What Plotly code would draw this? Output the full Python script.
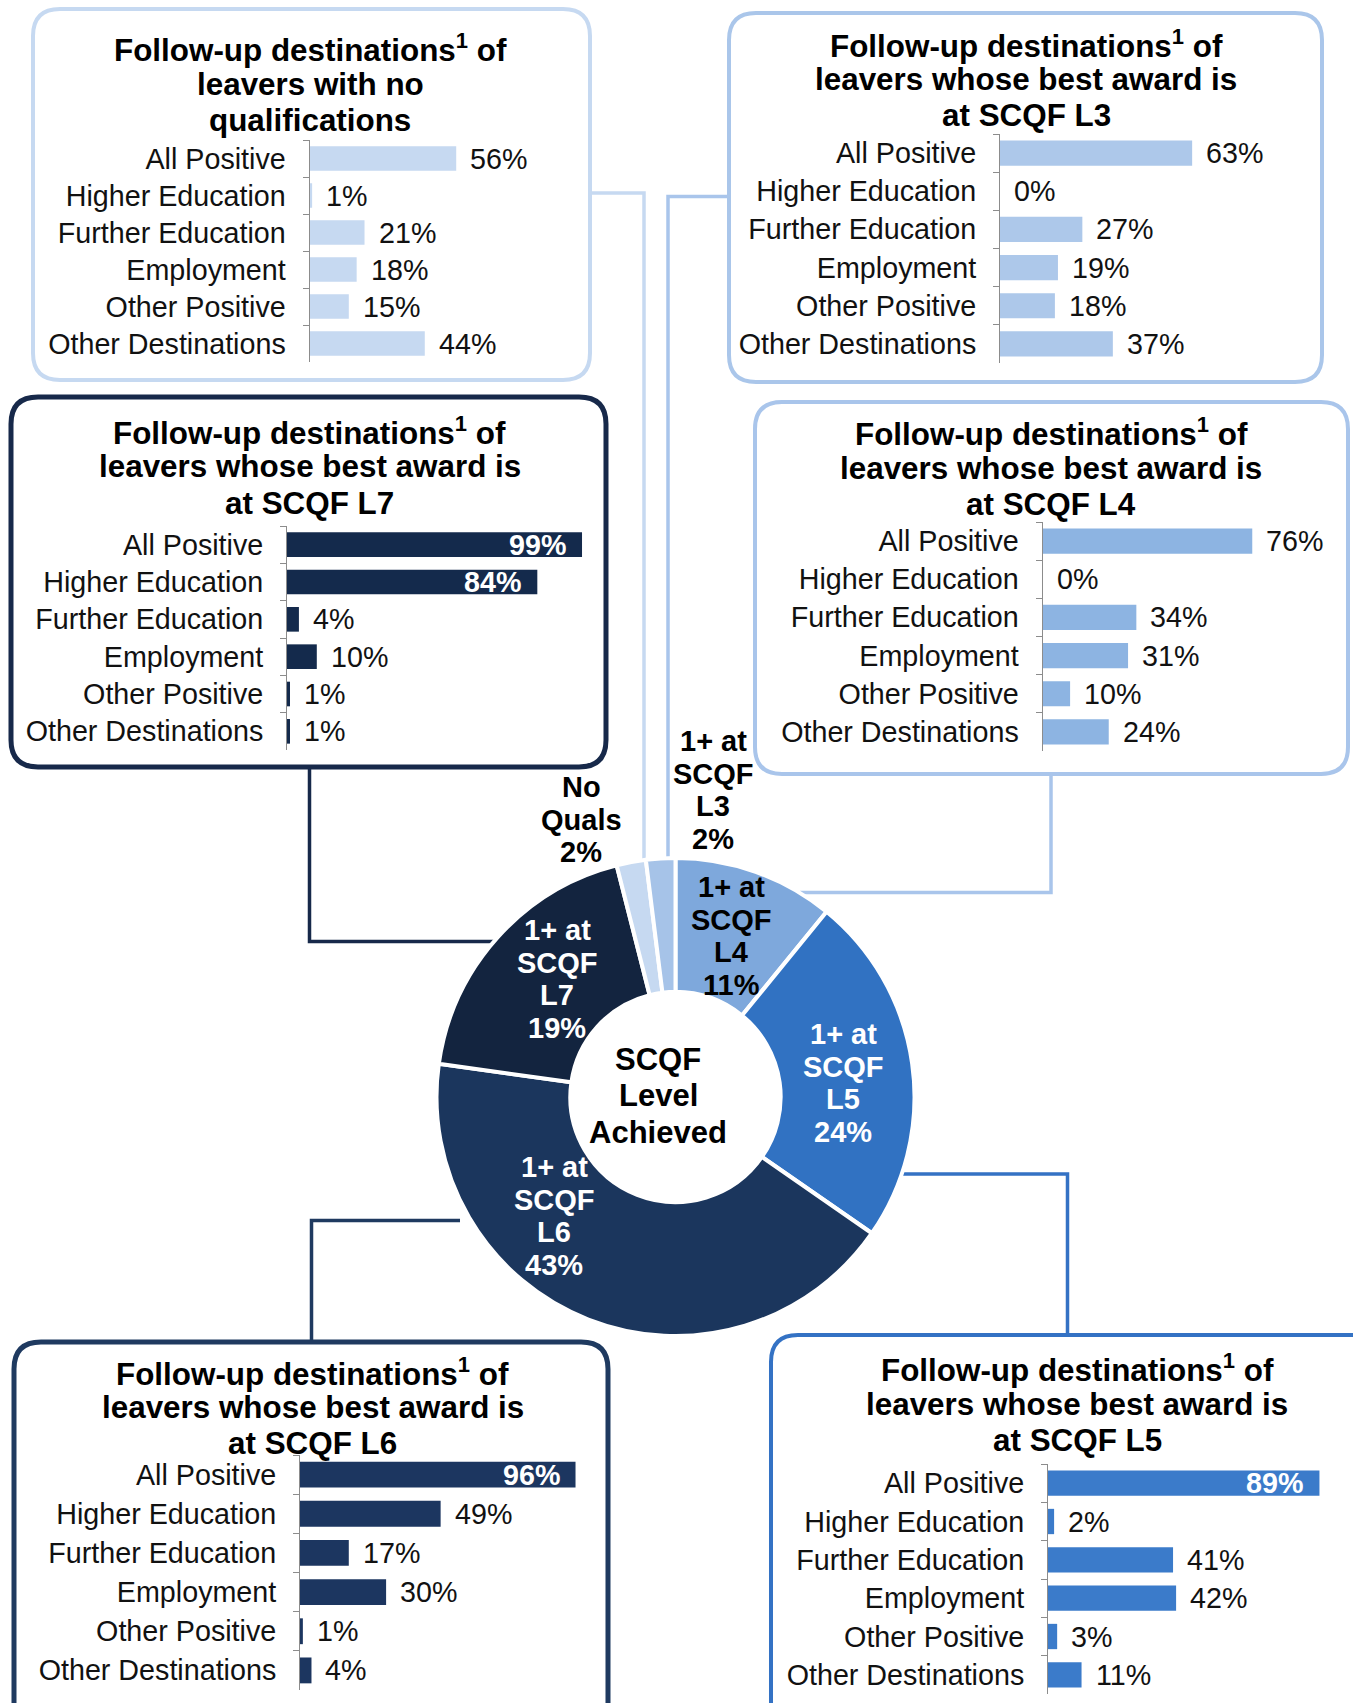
import plotly.graph_objects as go

W, H = 1353, 1703
FONT = "Arial, 'Liberation Sans', sans-serif"

# ---- data ----
categories = ["All Positive", "Higher Education", "Further Education",
              "Employment", "Other Positive", "Other Destinations"]

no_quals = [56, 1, 21, 18, 15, 44]
scqf_l3 = [63, 0, 27, 19, 18, 37]
scqf_l4 = [76, 0, 34, 31, 10, 24]
scqf_l5 = [89, 2, 41, 42, 3, 11]
scqf_l6 = [96, 49, 17, 30, 1, 4]
scqf_l7 = [99, 84, 4, 10, 1, 1]

# donut, clockwise from 12 o'clock
level_names = ["1+ at SCQF L4", "1+ at SCQF L5", "1+ at SCQF L6",
               "1+ at SCQF L7", "No Quals", "1+ at SCQF L3"]
level_shares = [11, 24, 43, 19, 2, 2]

centre_text = ["SCQF", "Level", "Achieved"]
title_first = "Follow-up destinations<sup>1</sup> of"


def P(x, y):
    return f"{x / W:.5f},{1 - y / H:.5f}"


def rounded_box(x0, y0, x1, y1, r=27):
    return (f"M{P(x0 + r, y0)} L{P(x1 - r, y0)} Q{P(x1, y0)} {P(x1, y0 + r)} "
            f"L{P(x1, y1 - r)} Q{P(x1, y1)} {P(x1 - r, y1)} "
            f"L{P(x0 + r, y1)} Q{P(x0, y1)} {P(x0, y1 - r)} "
            f"L{P(x0, y0 + r)} Q{P(x0, y0)} {P(x0 + r, y0)} Z")


def polyline(pts):
    return "M" + " L".join(P(x, y) for x, y in pts)


# ---- panel styling / placement (pixels) ----
panels = [
    dict(values=no_quals, lines=[title_first, "leavers with no", "qualifications"],
         bar="#c6d9f1", edge="#c6d9f1", box=(33, 9, 590, 380), edge_w=4,
         title_x=310, title_y=48, axis_x=309.5, rows=(140, 362), ppp=2.62),
    dict(values=scqf_l3, lines=[title_first, "leavers whose best award is", "at SCQF L3"],
         bar="#adc8ea", edge="#aac6ea", box=(729, 13, 1322, 382), edge_w=4,
         title_x=1026, title_y=43.5, axis_x=1000, rows=(134, 363), ppp=3.05),
    dict(values=scqf_l7, lines=[title_first, "leavers whose best award is", "at SCQF L7"],
         bar="#142a4c", edge="#17294a", box=(11, 397, 606, 767), edge_w=5,
         title_x=309.5, title_y=431, axis_x=287, rows=(526, 750), ppp=2.98),
    dict(values=scqf_l4, lines=[title_first, "leavers whose best award is", "at SCQF L4"],
         bar="#8db4e2", edge="#a9c5eb", box=(755, 402, 1348, 774), edge_w=4,
         title_x=1051, title_y=432, axis_x=1042.5, rows=(522, 751), ppp=2.76),
    dict(values=scqf_l6, lines=[title_first, "leavers whose best award is", "at SCQF L6"],
         bar="#1c3660", edge="#1f3a60", box=(14, 1342, 608, 1730), edge_w=5,
         title_x=312.5, title_y=1371.5, axis_x=300, rows=(1455, 1690), ppp=2.87),
    dict(values=scqf_l5, lines=[title_first, "leavers whose best award is", "at SCQF L5"],
         bar="#3b7bca", edge="#3472c4", box=(771, 1335, 1380, 1730), edge_w=4,
         title_x=1077, title_y=1368, axis_x=1048, rows=(1464, 1694), ppp=3.05),
]

connectors = [
    ([(589, 193), (644, 193), (644, 870)], "#c6d9f1"),
    ([(729, 196.5), (668, 196.5), (668, 866)], "#a9c5eb"),
    ([(309.5, 767), (309.5, 941.5), (500, 941.5)], "#17294a"),
    ([(1051, 774), (1051, 892.5), (800, 892.5)], "#a9c5eb"),
    ([(895, 1174), (1067.5, 1174), (1067.5, 1335)], "#3472c4"),
    ([(311.5, 1342), (311.5, 1220.5), (460, 1220.5)], "#1f3a60"),
]

donut_colors = ["#7ea8dc", "#3172c2", "#1b365d", "#13243f", "#c6d9f1", "#a6c3e8"]
donut_label_pos = {  # centre x, first line y, colour
    "1+ at SCQF L3": (713, 741, "#000"),
    "No Quals": (581, 787, "#000"),
    "1+ at SCQF L7": (557, 930, "#fff"),
    "1+ at SCQF L6": (554, 1167, "#fff"),
    "1+ at SCQF L5": (843, 1034, "#fff"),
    "1+ at SCQF L4": (731, 887, "#000"),
}
centre = (675.5, 1097)
radius = 239

fig = go.Figure()
shapes, annotations = [], []
layout_axes = {}


def text(x, y, s, size=28, color="#000", bold=False):
    annotations.append(dict(
        x=x / W, y=1 - y / H, xref="paper", yref="paper", text=f"<b>{s}</b>" if bold else s,
        xanchor="center", yanchor="middle", showarrow=False,
        font=dict(family=FONT, size=size, color=color)))


for pts, col in connectors:
    shapes.append(dict(type="path", path=polyline(pts), xref="paper", yref="paper",
                       line=dict(color=col, width=3.5), layer="below"))

for i, p in enumerate(panels, start=1):
    x0, y0, x1, y1 = p["box"]
    shapes.append(dict(type="path", path=rounded_box(x0, y0, x1, y1), xref="paper", yref="paper",
                       line=dict(color=p["edge"], width=p["edge_w"]), layer="below"))
    for k, line in enumerate(p["lines"]):
        text(p["title_x"], p["title_y"] + 36 * k, line, size=31.4, bold=True)

    span = min(300, W - 2 - p["axis_x"])
    xa, ya = f"x{i}", f"y{i}"
    fig.add_trace(go.Bar(x=p["values"], y=categories, orientation="h",
                         marker=dict(color=p["bar"], line=dict(width=0)),
                         xaxis=xa, yaxis=ya, hoverinfo="x+y"))
    layout_axes[f"xaxis{i}"] = dict(domain=[p["axis_x"] / W, (p["axis_x"] + span) / W],
                                    range=[0, span / p["ppp"]], anchor=ya, visible=False,
                                    fixedrange=True)
    top, bottom = p["rows"]
    layout_axes[f"yaxis{i}"] = dict(domain=[1 - bottom / H, 1 - top / H], anchor=xa,
                                    autorange="reversed", type="category",
                                    showline=True, linecolor="#8c8c8c", linewidth=1,
                                    ticks="outside", tickson="boundaries", ticklen=6,
                                    tickcolor="#8c8c8c", ticklabelstandoff=17,
                                    showgrid=False, fixedrange=True,
                                    tickfont=dict(family=FONT, size=28.7, color="#111"))
    for cat, v in zip(categories, p["values"]):
        if v >= 80:
            annotations.append(dict(x=v, y=cat, xref=xa, yref=ya, text=f"<b>{v}%</b>",
                                    showarrow=False, xanchor="right", yanchor="middle",
                                    xshift=-14,
                                    font=dict(family=FONT, size=28.7, color="#fff")))
        else:
            annotations.append(dict(x=v, y=cat, xref=xa, yref=ya, text=f"{v}%",
                                    showarrow=False, xanchor="left", yanchor="middle",
                                    xshift=12,
                                    font=dict(family=FONT, size=28.7, color="#111")))

fig.add_trace(go.Pie(
    values=level_shares, labels=level_names, sort=False, direction="clockwise",
    rotation=0, hole=0.44, textinfo="none",
    marker=dict(colors=donut_colors, line=dict(color="#fff", width=4)),
    domain=dict(x=[(centre[0] - radius) / W, (centre[0] + radius) / W],
                y=[1 - (centre[1] + radius) / H, 1 - (centre[1] - radius) / H]),
))

for name, share in zip(level_names, level_shares):
    cx, cy, col = donut_label_pos[name]
    if name.startswith("1+ at"):
        parts = ["1+ at", "SCQF", name.split()[-1]]
    else:
        parts = name.split()
    parts.append(f"{share}%")
    for k, s in enumerate(parts):
        text(cx, cy + 32.6 * k, s, size=29, color=col, bold=True)

for k, s in enumerate(centre_text):
    text(658, 1059 + 36.5 * k, s, size=31, bold=True)

fig.update_layout(
    width=W, height=H, margin=dict(l=0, r=0, t=0, b=0),
    paper_bgcolor="white", plot_bgcolor="rgba(0,0,0,0)",
    showlegend=False, bargap=0.34,
    shapes=shapes, annotations=annotations, **layout_axes,
)

fig.write_html("out.html", config={"displayModeBar": False},
               post_script="document.body.style.margin='0';")
